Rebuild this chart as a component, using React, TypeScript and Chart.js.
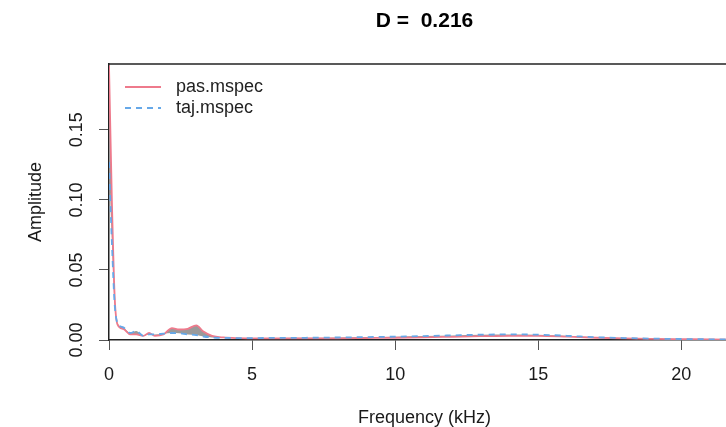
import { useEffect, useRef } from "react";
import { Chart, registerables } from "chart.js";

Chart.register(...registerables);

// ---- data ----
const titleText = "D =  0.216";
const xAxisTitle = "Frequency (kHz)";
const yAxisTitle = "Amplitude";
const seriesNames = ["pas.mspec", "taj.mspec"];

const freqKHz = [
  0, 0.1, 0.2, 0.3, 0.5, 0.75, 0.95, 1.2, 1.4, 1.6, 1.9, 2.2, 2.45, 2.75, 3.05,
  3.3, 3.6, 4.0, 4.5, 5, 6, 7, 8, 9, 10, 11, 12, 13, 14, 15, 16, 17, 18, 19,
  20, 21, 22.05,
];
const pasMspec = [
  0.196, 0.1, 0.03, 0.011, 0.008, 0.004, 0.004, 0.003, 0.005, 0.003, 0.004,
  0.0085, 0.0075, 0.008, 0.0105, 0.006, 0.003, 0.0018, 0.0013, 0.0012, 0.0012,
  0.0011, 0.0012, 0.0014, 0.0016, 0.0019, 0.0023, 0.0027, 0.003, 0.003,
  0.0024, 0.0016, 0.0011, 0.0008, 0.0006, 0.0004, 0.0003,
];
const tajMspec = [
  0.127, 0.07, 0.025, 0.012, 0.009, 0.005, 0.0065, 0.003, 0.004, 0.004,
  0.0045, 0.005, 0.0048, 0.004, 0.0035, 0.0025, 0.0018, 0.0015, 0.0014,
  0.0014, 0.0015, 0.0016, 0.0018, 0.0021, 0.0024, 0.0028, 0.0033, 0.0038,
  0.004, 0.0038, 0.003, 0.002, 0.0014, 0.001, 0.0007, 0.0005, 0.0004,
];
const xTicks = [0, 5, 10, 15, 20];
const yTicks = [0, 0.05, 0.1, 0.15];
const xMax = 22.05;
const yMax = 0.197;

const FONT = "'Liberation Sans', Arial, Helvetica, sans-serif";
const PAS_COLOR = "#EE7A8C";
const TAJ_COLOR = "#66A8E8";

const overlayPlugin = {
  id: "overlay",
  afterDraw(chart: any) {
    const { ctx, chartArea } = chart;
    ctx.save();
    // top border of the box
    ctx.strokeStyle = "#222";
    ctx.lineWidth = 1.5;
    ctx.beginPath();
    ctx.moveTo(chartArea.left, chartArea.top);
    ctx.lineTo(chartArea.right, chartArea.top);
    ctx.stroke();
    // main title, centred on the plot region
    ctx.font = `bold 21px ${FONT}`;
    ctx.fillStyle = "#000";
    ctx.textAlign = "center";
    ctx.textBaseline = "middle";
    ctx.fillText(titleText, (chartArea.left + chartArea.right) / 2, 21.5);
    // legend (top-left inside the plot, no box)
    ctx.font = `18px ${FONT}`;
    ctx.textAlign = "left";
    chart.data.datasets.forEach((ds: any, i: number) => {
      const y = chartArea.top + 23 + i * 21;
      ctx.strokeStyle = ds.borderColor;
      ctx.lineWidth = 2;
      ctx.setLineDash(ds.borderDash || []);
      ctx.beginPath();
      ctx.moveTo(chartArea.left + 16, y);
      ctx.lineTo(chartArea.left + 52, y);
      ctx.stroke();
      ctx.setLineDash([]);
      ctx.fillStyle = "#222";
      ctx.fillText(ds.label, chartArea.left + 67, y);
    });
    ctx.restore();
  },
};

export default function App() {
  const ref = useRef<HTMLCanvasElement>(null);
  useEffect(() => {
    if (!ref.current) return;
    const chart = new Chart(ref.current, {
      type: "line",
      data: {
        datasets: [
          {
            label: seriesNames[0],
            data: freqKHz.map((f, i) => ({ x: f, y: pasMspec[i] })),
            borderColor: PAS_COLOR,
            borderWidth: 1.8,
            pointRadius: 0,
            cubicInterpolationMode: "monotone",
            fill: { target: 1, above: "#9a9a9a", below: "#9a9a9a" },
            order: 1,
          },
          {
            label: seriesNames[1],
            data: freqKHz.map((f, i) => ({ x: f, y: tajMspec[i] })),
            borderColor: TAJ_COLOR,
            borderWidth: 1.8,
            borderDash: [6, 5],
            pointRadius: 0,
            cubicInterpolationMode: "monotone",
            fill: false,
            order: 0,
          },
        ],
      },
      options: {
        responsive: false,
        maintainAspectRatio: false,
        animation: false,
        layout: { padding: { top: 64, right: 20, left: 0, bottom: 0 } },
        plugins: {
          legend: { display: false },
          title: { display: false },
          tooltip: { enabled: false },
          filler: { drawTime: "beforeDatasetsDraw" },
        } as any,
        scales: {
          x: {
            type: "linear",
            min: 0,
            max: xMax,
            afterBuildTicks: (s: any) => {
              s.ticks = xTicks.map((v) => ({ value: v }));
            },
            afterFit: (s: any) => {
              s.height = 87;
            },
            ticks: {
              font: { size: 18, family: FONT },
              color: "#1a1a1a",
              padding: 14,
              maxRotation: 0,
              callback: (v: any) => String(v),
            },
            grid: {
              drawOnChartArea: false,
              drawTicks: true,
              tickLength: 10,
              color: "#555",
            },
            border: { display: true, color: "#222", width: 1.5 },
            title: {
              display: true,
              text: xAxisTitle,
              font: { size: 18, family: FONT, lineHeight: 1 },
              color: "#1a1a1a",
              padding: 0,
            },
          },
          y: {
            type: "linear",
            min: 0,
            max: yMax,
            afterBuildTicks: (s: any) => {
              s.ticks = yTicks.map((v) => ({ value: v }));
            },
            afterFit: (s: any) => {
              s.width = 109;
            },
            ticks: {
              font: { size: 18, family: FONT },
              color: "#1a1a1a",
              padding: 4,
              minRotation: 90,
              maxRotation: 90,
              crossAlign: "center",
              callback: (v: any) => Number(v).toFixed(2),
            },
            grid: {
              drawOnChartArea: false,
              drawTicks: true,
              tickLength: 10,
              color: "#555",
            },
            border: { display: true, color: "#222", width: 1.5 },
            title: {
              display: true,
              text: yAxisTitle,
              font: { size: 18, family: FONT, lineHeight: 1 },
              color: "#1a1a1a",
              padding: { top: 27, bottom: 0 },
            },
          },
        },
      },
      plugins: [overlayPlugin],
    } as any);
    return () => chart.destroy();
  }, []);

  return (
    <div style={{ position: "fixed", left: 0, top: 0, width: 760, height: 427, background: "#fff" }}>
      <canvas ref={ref} width={760} height={427} />
    </div>
  );
}
